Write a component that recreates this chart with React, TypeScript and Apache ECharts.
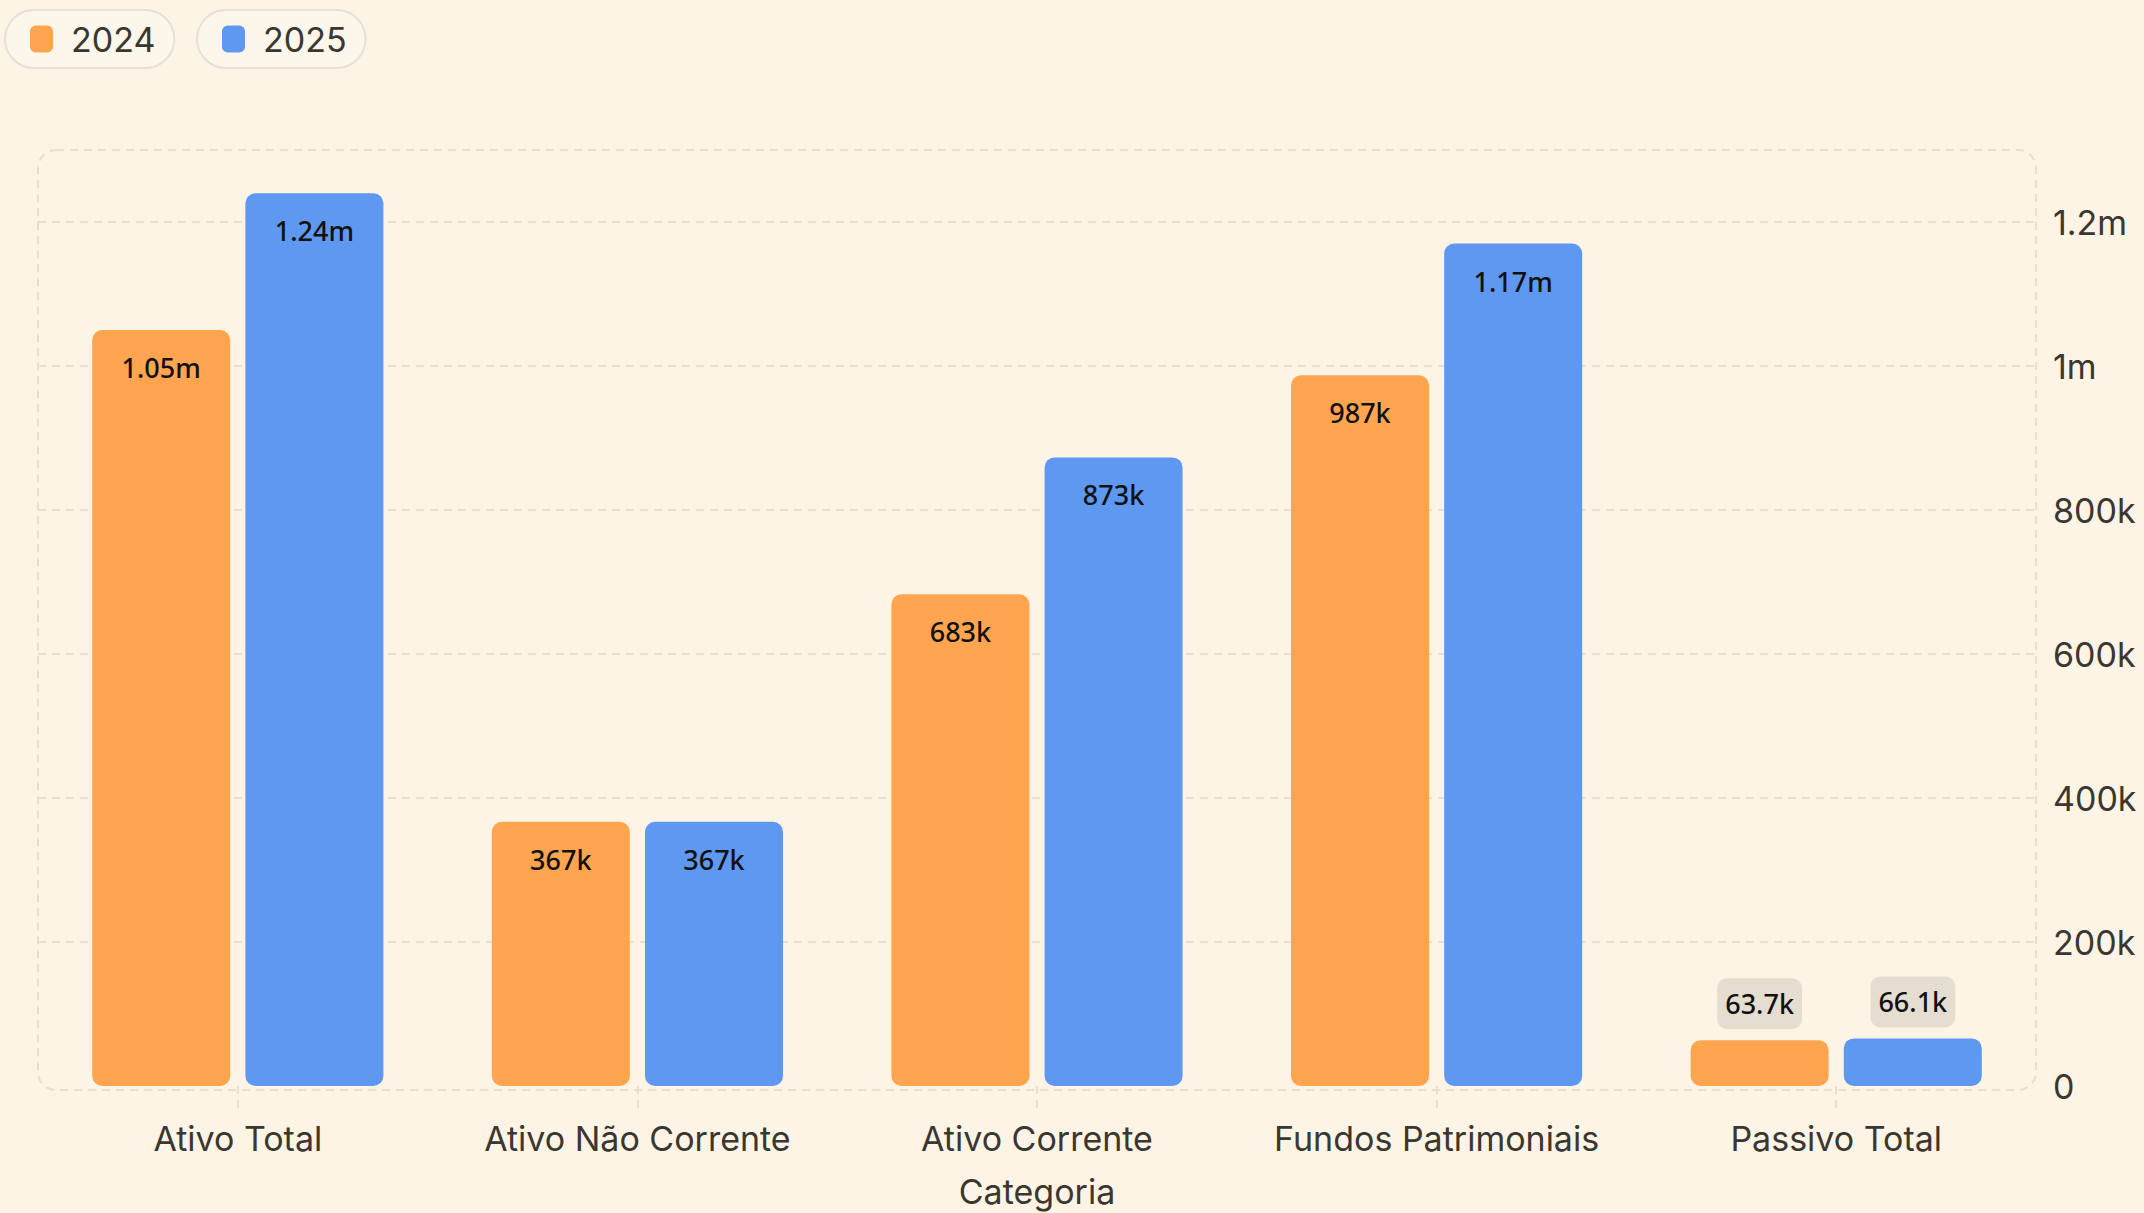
import React, { useEffect, useRef } from "react";
import * as echarts from "echarts";

const categories = ["Ativo Total", "Ativo Não Corrente", "Ativo Corrente", "Fundos Patrimoniais", "Passivo Total"];
const seriesNames = ["2024", "2025"];
const values2024 = [1050000, 367000, 683000, 987000, 63700];
const values2025 = [1240000, 367000, 873000, 1170000, 66100];
const axisName = "Categoria";

const BG = "#fdf4e6";
const TEXT = "#3a3731";
const GRID = "#e6dfd4";
const COLORS = ["#ffa54f", "#5f98f0"];
const BADGE = "#e5ddd0";

function trimNum(s: string): string {
  if (s.indexOf(".") >= 0) s = s.replace(/0+$/, "").replace(/\.$/, "");
  return s;
}
function fmt(v: number): string {
  if (Math.abs(v) >= 1e6) return trimNum((v / 1e6).toPrecision(3)) + "m";
  if (Math.abs(v) >= 1e3) return trimNum((v / 1e3).toPrecision(3)) + "k";
  return String(v);
}

const labelBase = {
  show: true,
  fontFamily: "Noto Sans",
  fontSize: 27,
  fontWeight: 500,
  color: "#111111",
  padding: [12, 8, 12, 8],
  borderRadius: 10,
  formatter: (p: any) => fmt(p.value),
};

function buildData(vals: number[]) {
  return vals.map((v) =>
    v < 150000
      ? { value: v, label: { ...labelBase, position: "top", distance: 11, backgroundColor: BADGE } }
      : { value: v, label: { ...labelBase, position: "insideTop", distance: 12 } }
  );
}

export default function App() {
  const ref = useRef<HTMLDivElement>(null);
  useEffect(() => {
    if (!ref.current) return;
    const chart = echarts.init(ref.current, null, { renderer: "svg" });
    const legendCommon = {
      top: 10,
      orient: "horizontal",
      backgroundColor: "#fdf6ea",
      borderColor: "#e6e0d6",
      borderWidth: 2,
      borderRadius: 30,
      padding: [12, 19, 12, 25],
      icon: "roundRect",
      itemWidth: 23,
      itemHeight: 27,
      textStyle: { fontFamily: "Inter", fontSize: 34, color: TEXT, padding: [0, 0, 0, 13] },
    };
    chart.setOption({
      animation: false,
      backgroundColor: BG,
      color: COLORS,
      legend: [
        { ...legendCommon, left: 5, data: [seriesNames[0]] },
        { ...legendCommon, left: 197, data: [seriesNames[1]] },
      ],
      grid: { left: 38, right: 108, top: 150, bottom: 123, containLabel: false },
      graphic: [
        {
          type: "rect",
          z: -10,
          silent: true,
          shape: { x: 38, y: 150, width: 1998, height: 940, r: 18 },
          style: { fill: "none", stroke: GRID, lineWidth: 2, lineDash: [8, 6] },
        },
      ],
      xAxis: {
        type: "category",
        data: categories,
        name: axisName,
        nameLocation: "middle",
        nameGap: 88,
        nameTextStyle: { fontFamily: "Inter", fontSize: 34, color: TEXT },
        axisLine: { show: false },
        axisTick: {
          show: true,
          alignWithLabel: true,
          length: 23,
          lineStyle: { color: GRID, width: 2, type: [8, 6] },
        },
        axisLabel: { fontFamily: "Inter", fontSize: 34, color: TEXT, margin: 35, interval: 0 },
      },
      yAxis: {
        type: "value",
        position: "right",
        min: 0,
        max: 1300000,
        interval: 200000,
        axisLine: { show: false },
        axisTick: { show: false },
        axisLabel: {
          fontFamily: "Inter",
          fontSize: 34,
          color: TEXT,
          margin: 17,
          showMaxLabel: false,
          formatter: (v: number) => fmt(v),
        },
        splitLine: {
          show: true,
          showMinLine: false,
          showMaxLine: false,
          lineStyle: { color: GRID, width: 2, type: [8, 6] },
        },
      },
      series: [
        {
          name: seriesNames[0],
          type: "bar",
          data: buildData(values2024),
          barWidth: 138,
          barGap: "11%",
          itemStyle: { color: COLORS[0], borderRadius: 10 },
        },
        {
          name: seriesNames[1],
          type: "bar",
          data: buildData(values2025),
          barWidth: 138,
          barGap: "11%",
          itemStyle: { color: COLORS[1], borderRadius: 10 },
        },
      ],
    });
    return () => chart.dispose();
  }, []);
  return (
    <div
      ref={ref}
      style={{ position: "fixed", left: 0, top: 0, width: 2144, height: 1213, background: BG }}
    />
  );
}
